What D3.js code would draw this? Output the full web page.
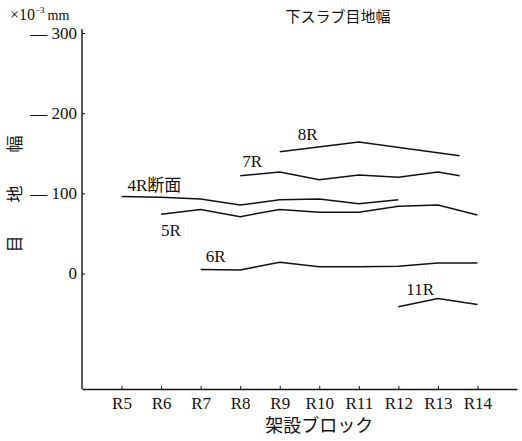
<!DOCTYPE html>
<html>
<head>
<meta charset="utf-8">
<script src="https://cdn.jsdelivr.net/npm/d3@7"></script>
<style>
  body { margin: 0; background: #fff; }
  svg text { font-family: "Liberation Serif", "Times New Roman", "DejaVu Serif", "Noto Sans CJK JP", serif; fill: #111; }
</style>
</head>
<body>
<svg id="chart"></svg>
<script>
// block positions (R5..R14) and their tick labels
const blockNums = [5, 6, 7, 8, 9, 10, 11, 12, 13, 14];
const blockLabels = ['R5', 'R6', 'R7', 'R8', 'R9', 'R10', 'R11', 'R12', 'R13', 'R14'];
const yTicks = [0, 100, 200, 300];

// joint width, x10^-3 mm
const x4R = [5, 6, 7, 8, 9, 10, 11, 12];
const v4R = [96, 95, 93, 85.5, 92, 93, 87, 92];
const x5R = [6, 7, 8, 9, 10, 11, 12, 13, 14];
const v5R = [74, 80, 71, 80, 76.5, 76.5, 84, 85.5, 73];
const x6R = [7, 8, 9, 10, 11, 12, 13, 14];
const v6R = [5, 4.5, 14, 8.5, 8.5, 9, 13, 13];
const x7R = [8, 9, 10, 11, 12, 13, 13.55];
const v7R = [122, 126.5, 117, 123, 120, 126.5, 122];
const x8R = [9, 11, 13.55];
const v8R = [152, 164, 147];
const x11R = [12, 13, 14];
const v11R = [-41.5, -31, -38.5];

const seriesNames = ['4R断面', '5R', '6R', '7R', '8R', '11R'];

const width = 522, height = 441;
const margin = {top: 33, right: 5, bottom: 52, left: 82};
const serif = '"Liberation Serif", "Times New Roman", "DejaVu Serif", "Noto Sans CJK JP", serif';

const svg = d3.select('#chart')
    .attr('width', width)
    .attr('height', height);

const chart = svg.append('g')
    .attr('transform', `translate(${margin.left}, ${margin.top})`);

const inner_width = width - margin.left - margin.right;
const inner_height = height - margin.top - margin.bottom;

const xscale = d3.scaleLinear()
    .domain([4, 15])
    .range([0, inner_width]);

const yscale = d3.scaleLinear()
    .domain([-144, 300])
    .range([inner_height, 0]);

// axes
const xaxis = d3.axisBottom(xscale)
    .tickValues(blockNums)
    .tickFormat((d, i) => blockLabels[i])
    .tickSizeInner(-3)
    .tickSizeOuter(0)
    .tickPadding(8);

const yaxis = d3.axisLeft(yscale)
    .tickValues(yTicks)
    .tickFormat(d => d > 0 ? '— ' + d : d)
    .tickSizeInner(-3)
    .tickSizeOuter(0)
    .tickPadding(5);

const xaxis_group = chart.append('g')
    .attr('transform', `translate(0, ${inner_height})`)
    .call(xaxis);

const yaxis_group = chart.append('g')
    .call(yaxis);

[xaxis_group, yaxis_group].forEach(g => {
    g.attr('font-family', serif).attr('font-size', 17);
    g.select('.domain').attr('stroke', '#111').attr('stroke-width', 1.4);
    g.selectAll('.tick line').attr('stroke', '#111');
    g.selectAll('.tick text').attr('fill', '#111');
});
// y axis reaches slightly above 300
yaxis_group.select('.domain').attr('d', `M0,-4V${inner_height}`);

// series lines
const line = d3.line()
    .x(d => xscale(d[0]))
    .y(d => yscale(d[1]));

const series = [
    [x4R, v4R], [x5R, v5R], [x6R, v6R],
    [x7R, v7R], [x8R, v8R], [x11R, v11R]
];

series.forEach(s => {
    chart.append('path')
        .attr('d', line(d3.zip(s[0], s[1])))
        .attr('stroke', '#111')
        .attr('stroke-width', 1.5)
        .attr('fill', 'none');
});

// series labels, offset from the first point of each line
const labelOffset = [
    {dx: 6, dy: -6},
    {dx: 0, dy: 22},
    {dx: 5, dy: -8},
    {dx: 2, dy: -9},
    {dx: 18, dy: -12},
    {dx: 8, dy: -12}
];

series.forEach((s, k) => {
    const a = labelOffset[k];
    chart.append('text')
        .attr('x', xscale(s[0][0]) + a.dx)
        .attr('y', yscale(s[1][0]) + a.dy)
        .style('font-size', '17px')
        .text(seriesNames[k]);
});

// title and unit
svg.append('text')
    .attr('x', 338)
    .attr('y', 22)
    .attr('text-anchor', 'middle')
    .style('font-size', '15px')
    .text('下スラブ目地幅');

const unit = svg.append('text')
    .attr('x', 10)
    .attr('y', 20)
    .style('font-size', '16px');
unit.append('tspan').text('×10');
unit.append('tspan').attr('dy', -7).style('font-size', '9px').text('−3');
unit.append('tspan').attr('dy', 7).attr('dx', 3).style('font-size', '14px').text('mm');

// axis labels
svg.append('text')
    .attr('transform', `translate(21, 190) rotate(-90)`)
    .attr('text-anchor', 'middle')
    .style('font-size', '17px')
    .style('letter-spacing', '8px')
    .text('目　地　幅');

svg.append('text')
    .attr('x', margin.left + xscale(10))
    .attr('y', 432)
    .attr('text-anchor', 'middle')
    .style('font-size', '18px')
    .text('架設ブロック');
</script>
</body>
</html>
